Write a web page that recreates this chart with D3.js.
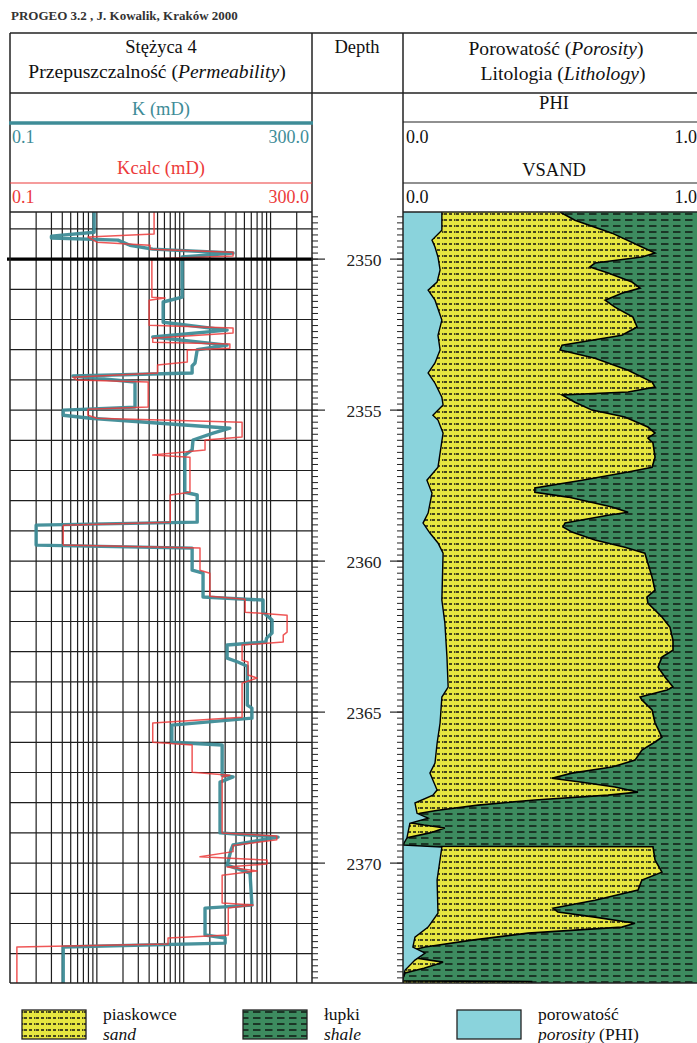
<!DOCTYPE html>
<html>
<head>
<meta charset="utf-8">
<script src="https://cdn.jsdelivr.net/npm/d3@7/dist/d3.min.js"></script>
<style>
  html, body { margin: 0; padding: 0; background: #fff; }
  svg { display: block; }
</style>
</head>
<body>
<svg id="log" width="697" height="1043" font-family="'Liberation Serif', 'Times New Roman', 'DejaVu Serif', serif"></svg>
<script>
// Well Stężyca 4 — permeability (measured K, calculated Kcalc), porosity and lithology logs.
// Curves are [depth m, value] pairs.

const kPermeability = [
  [2348.44,0.93],[2349.11,0.93],[2349.24,0.3],[2349.30,0.3],[2349.37,1.75],[2349.54,2.4],[2349.67,4.4],
  [2349.80,37],[2349.93,9.6],[2351.26,9.6],[2351.42,5.8],[2352.09,5.8],[2352.35,31.6],[2352.58,4.4],
  [2352.85,31.6],[2353.00,14.3],[2353.44,13.5],[2353.54,12.5],[2353.77,12.5],[2353.87,0.53],[2354.07,2.75],
  [2354.90,2.75],[2355.00,0.41],[2355.17,0.41],[2355.27,0.84],[2355.60,34],[2355.76,21.8],[2355.99,12.8],
  [2356.32,12.5],[2356.49,10.3],[2357.72,10.3],[2357.81,14.3],[2358.71,14.3],[2358.81,0.2],[2359.47,0.2],
  [2359.57,12.5],[2360.30,12.5],[2360.40,16.7],[2361.19,16.7],[2361.29,82],[2361.69,82],[2361.95,104],
  [2362.38,104],[2362.55,90],[2362.68,88],[2362.78,31.6],[2363.21,31.6],[2363.34,42],[2363.48,54],
  [2364.77,54],[2364.87,61],[2365.20,61],[2365.43,7.3],[2366.00,7.3],[2366.09,27.7],[2367.09,27.7],
  [2367.15,37],[2367.32,26.2],[2369.00,26.2],[2369.14,122],[2369.40,37],[2369.57,35],[2370.07,31.6],
  [2370.33,58],[2371.39,61],[2371.49,17.6],[2372.38,17.6],[2372.48,30],[2372.65,30],[2372.78,0.41],
  [2373.97,0.41]
];

const kCalculated = [
  [2348.44,4.56],[2349.17,4.56],[2349.27,0.79],[2349.44,1.0],[2349.54,4.1],[2349.67,4.1],[2349.77,37],
  [2349.90,37],[2350.00,4.3],[2351.26,4.3],[2351.29,6.1],[2351.36,4.0],[2352.19,4.0],[2352.28,37],
  [2352.45,37],[2352.62,4.4],[2352.75,4.4],[2352.81,34],[2352.95,34],[2353.01,11],[2353.41,11],
  [2353.51,5],[2353.77,5],[2353.91,0.53],[2354.00,0.59],[2354.07,3.9],[2354.90,3.9],[2354.97,0.79],
  [2355.17,0.79],[2355.27,1.0],[2355.40,47],[2355.89,47],[2355.99,17.6],[2356.32,17.6],[2356.49,4.4],
  [2356.56,11.8],[2357.72,11.8],[2357.81,7],[2358.71,7],[2358.81,0.41],[2359.47,0.41],[2359.57,15.4],
  [2360.30,15.4],[2360.40,20],[2361.16,20],[2361.26,51],[2361.69,51],[2361.79,155],[2362.35,155],
  [2362.45,140],[2362.68,140],[2362.78,47],[2363.28,47],[2363.34,55],[2363.77,55],[2363.87,70],
  [2364.04,47],[2365.17,47],[2365.36,4.4],[2366.00,4.4],[2366.09,12.5],[2366.99,12.5],[2367.09,34],
  [2367.15,27.7],[2369.00,27.7],[2369.10,118],[2369.23,118],[2369.42,37],[2369.62,37],[2369.79,15.4],
  [2369.90,91],[2370.03,91],[2370.13,31.6],[2370.26,70],[2370.40,27.7],[2371.32,27.7],[2371.39,63],
  [2371.49,32.6],[2372.38,32.6],[2372.48,6.6],[2372.68,6.6],[2372.78,0.12],[2373.97,0.12]
];

const porosity = [
  [2348.44,0.130],[2349.04,0.130],[2349.37,0.097],[2349.60,0.107],[2349.93,0.117],[2350.36,0.124],
  [2350.76,0.114],[2351.03,0.084],[2351.36,0.107],[2352.02,0.130],[2352.52,0.117],[2353.01,0.124],
  [2353.44,0.107],[2353.77,0.084],[2354.11,0.107],[2354.57,0.130],[2354.83,0.134],[2355.17,0.100],
  [2355.33,0.117],[2355.76,0.134],[2356.89,0.117],[2357.32,0.080],[2357.75,0.097],[2358.41,0.084],
  [2358.74,0.067],[2359.07,0.090],[2359.40,0.117],[2359.74,0.134],[2361.29,0.130],[2362.05,0.140],
  [2363.18,0.147],[2364.17,0.151],[2364.50,0.130],[2365.36,0.124],[2366.03,0.114],[2366.69,0.107],
  [2367.02,0.090],[2367.58,0.114],[2367.75,0.100],[2368.01,0.040],[2368.35,0.047],[2368.51,0.084],
  [2368.68,0.023],[2369.17,0.013],[2369.40,0.000],[2369.47,0.130],[2370.56,0.114],[2371.66,0.117],
  [2372.12,0.084],[2372.45,0.040],[2372.78,0.033],[2372.98,0.074],[2373.21,0.040],[2373.54,0.007],
  [2373.77,0.000],[2373.97,0.000]
];

const vsand = [
  [2348.44,0.525],[2348.71,0.575],[2349.14,0.699],[2349.60,0.799],[2349.80,0.843],[2349.93,0.799],
  [2350.13,0.642],[2350.26,0.625],[2350.46,0.686],[2350.76,0.766],[2350.96,0.793],[2351.13,0.732],
  [2351.36,0.676],[2351.59,0.709],[2351.92,0.769],[2352.25,0.783],[2352.52,0.732],[2352.85,0.532],
  [2353.01,0.525],[2353.28,0.642],[2353.68,0.753],[2354.07,0.833],[2354.24,0.843],[2354.40,0.753],
  [2354.50,0.532],[2354.74,0.575],[2355.00,0.632],[2355.23,0.742],[2355.56,0.819],[2355.76,0.843],
  [2355.93,0.819],[2356.09,0.836],[2356.56,0.843],[2356.89,0.833],[2357.05,0.753],[2357.32,0.599],
  [2357.58,0.441],[2357.72,0.441],[2357.88,0.552],[2358.21,0.699],[2358.38,0.753],[2358.48,0.686],
  [2358.74,0.542],[2358.87,0.535],[2359.04,0.565],[2359.30,0.642],[2359.54,0.742],[2359.74,0.809],
  [2360.07,0.819],[2360.53,0.833],[2360.96,0.843],[2361.19,0.816],[2361.39,0.819],[2361.85,0.866],
  [2362.19,0.893],[2362.62,0.903],[2362.95,0.903],[2363.18,0.866],[2363.51,0.853],[2363.84,0.876],
  [2364.17,0.903],[2364.27,0.883],[2364.50,0.793],[2364.60,0.799],[2364.93,0.833],[2365.36,0.843],
  [2365.83,0.866],[2365.99,0.843],[2366.26,0.799],[2366.59,0.776],[2366.82,0.699],[2367.02,0.565],
  [2367.19,0.498],[2367.32,0.599],[2367.48,0.709],[2367.65,0.786],[2367.75,0.686],[2367.91,0.441],
  [2368.08,0.251],[2368.25,0.117],[2368.35,0.057],[2368.48,0.020],[2368.64,0.010],[2368.74,0.070],
  [2368.84,0.140],[2369.00,0.090],[2369.17,0.010],[2369.34,0.000],[2369.44,0.000],[2369.46,0.836],
  [2369.90,0.843],[2370.30,0.866],[2370.56,0.799],[2370.89,0.786],[2371.23,0.642],[2371.49,0.502],
  [2371.62,0.518],[2371.79,0.642],[2371.99,0.776],[2372.12,0.732],[2372.32,0.418],[2372.55,0.231],
  [2372.78,0.074],[2372.88,0.033],[2373.05,0.007],[2373.11,0.020],[2373.28,0.134],[2373.48,0.070],
  [2373.64,0.007],[2373.81,0.000],[2373.90,0.000],[2373.92,0.430],[2373.97,0.430]
];

const depthRange = [2348.44, 2373.97];
const depthLabels = [2350, 2355, 2360, 2365, 2370];
const markerDepths = [2350];
const permRange = [0.1, 300];
const fracRange = [0, 1];

const svg = d3.select("#log");
const W = 697;

// Track geometry
const yTop = 212, yBot = 983;
const L0 = 10, L1 = 312, R0 = 403, R1 = 702;

const y = d3.scaleLinear().domain(depthRange).range([yTop, yBot]);
const xK = d3.scaleLog().domain(permRange).range([L0, L1]);
const xF = d3.scaleLinear().domain(fracRange).range([R0, R1]);

const COL = {
  teal: "#3e8c97", red: "#ec3a3a", cyan: "#8ad3dc",
  sand: "#e6e640", shale: "#3d8b5f", grid: "#1e1e1e"
};

const defs = svg.append("defs");
const sandPat = defs.append("pattern").attr("id", "sandPat")
  .attr("patternUnits", "userSpaceOnUse").attr("width", 12).attr("height", 6).attr("y", 1);
sandPat.append("rect").attr("width", 12).attr("height", 6).attr("fill", COL.sand);
sandPat.append("path").attr("d", "M0,3h3M5,3h3M10,3h1.4")
  .attr("stroke", "#111").attr("stroke-width", 1.5);
const shalePat = defs.append("pattern").attr("id", "shalePat")
  .attr("patternUnits", "userSpaceOnUse").attr("width", 12).attr("height", 6).attr("y", 1);
shalePat.append("rect").attr("width", 12).attr("height", 6).attr("fill", COL.shale);
shalePat.append("path").attr("d", "M1,3h7.5")
  .attr("stroke", "#14261b").attr("stroke-width", 1.7);

defs.append("clipPath").attr("id", "clipL").append("rect")
  .attr("x", L0).attr("y", yTop).attr("width", L1 - L0).attr("height", yBot - yTop);
defs.append("clipPath").attr("id", "clipR").append("rect")
  .attr("x", R0).attr("y", yTop).attr("width", R1 - R0).attr("height", yBot - yTop);

// Program banner
svg.append("text").attr("x", 11).attr("y", 20)
  .attr("font-size", 13).attr("font-weight", "bold").attr("fill", "#333")
  .text("PROGEO 3.2 , J. Kowalik, Kraków 2000");

// ---------- Left track: permeability grid ----------
const gL = svg.append("g");
const gridVals = [];
[0.1, 1, 10, 100].forEach(dec => {
  for (let m = 1; m <= 9; m++) {
    const v = dec * m;
    if (v > 0.1 && v < 300) gridVals.push(v);
  }
});
gL.selectAll("line.vg").data(gridVals).join("line")
  .attr("x1", d => xK(d)).attr("x2", d => xK(d))
  .attr("y1", yTop).attr("y2", yBot)
  .attr("stroke", COL.grid).attr("stroke-width", 1.2);

const meterLines = d3.range(Math.ceil(depthRange[0]), Math.floor(depthRange[1]) + 1);
gL.selectAll("line.hg").data(meterLines).join("line")
  .attr("x1", L0).attr("x2", L1).attr("y1", d => y(d)).attr("y2", d => y(d))
  .attr("stroke", COL.grid).attr("stroke-width", 1.2);

// Curves
const permLine = d3.line().x(d => xK(d[1])).y(d => y(d[0]));
gL.append("path").datum(kPermeability)
  .attr("clip-path", "url(#clipL)")
  .attr("d", permLine).attr("fill", "none")
  .attr("stroke", COL.teal).attr("stroke-width", 3.4).attr("stroke-opacity", 0.95)
  .attr("stroke-linejoin", "round");
gL.append("path").datum(kCalculated)
  .attr("clip-path", "url(#clipL)")
  .attr("d", permLine).attr("fill", "none")
  .attr("stroke", COL.red).attr("stroke-width", 1.5).attr("stroke-opacity", 0.85)
  .attr("stroke-linejoin", "round");

// Depth marker
gL.selectAll("line.mk").data(markerDepths).join("line")
  .attr("x1", L0 - 3).attr("x2", L1 + 1).attr("y1", d => y(d)).attr("y2", d => y(d))
  .attr("stroke", "#000").attr("stroke-width", 3.2);

// ---------- Right track: porosity & lithology ----------
const gR = svg.append("g").attr("clip-path", "url(#clipR)");
gR.append("rect").attr("x", R0).attr("y", yTop).attr("width", R1 - R0).attr("height", yBot - yTop)
  .attr("fill", "url(#shalePat)");
const fracArea = d3.area().curve(d3.curveLinear)
  .x0(xF(0)).x1(d => xF(d[1])).y(d => y(d[0]));
const fracLine = d3.line().x(d => xF(d[1])).y(d => y(d[0]));
gR.append("path").datum(vsand).attr("d", fracArea).attr("fill", "url(#sandPat)");
gR.append("path").datum(vsand).attr("d", fracLine).attr("fill", "none")
  .attr("stroke", "#000").attr("stroke-width", 1.6);
gR.append("path").datum(porosity).attr("d", fracArea).attr("fill", COL.cyan);
gR.append("path").datum(porosity).attr("d", fracLine).attr("fill", "none")
  .attr("stroke", "#000").attr("stroke-width", 1.4);

// ---------- Depth column ----------
const gD = svg.append("g");
const minor = d3.range(Math.ceil(depthRange[0] * 5), Math.floor(depthRange[1] * 5) + 1).map(d => d / 5);
gD.selectAll("line.tl").data(minor).join("line")
  .attr("x1", L1).attr("x2", L1 + 6).attr("y1", d => y(d)).attr("y2", d => y(d))
  .attr("stroke", "#222").attr("stroke-width", 1);
gD.selectAll("line.tr").data(minor).join("line")
  .attr("x1", R0 - 6).attr("x2", R0).attr("y1", d => y(d)).attr("y2", d => y(d))
  .attr("stroke", "#222").attr("stroke-width", 1);
gD.selectAll("line.ml").data(depthLabels).join("line")
  .attr("x1", L1).attr("x2", L1 + 13).attr("y1", d => y(d)).attr("y2", d => y(d))
  .attr("stroke", "#222").attr("stroke-width", 1.2);
gD.selectAll("line.mr").data(depthLabels).join("line")
  .attr("x1", R0 - 13).attr("x2", R0).attr("y1", d => y(d)).attr("y2", d => y(d))
  .attr("stroke", "#222").attr("stroke-width", 1.2);
gD.selectAll("text.dl").data(depthLabels).join("text")
  .attr("x", 364).attr("y", d => y(d) + 6.5).attr("text-anchor", "middle")
  .attr("font-size", 17.5).attr("fill", "#222").text(d => d);

// ---------- Header table ----------
const frame = svg.append("g").attr("stroke", "#222").attr("fill", "none");
frame.append("line").attr("x1", L0).attr("x2", W).attr("y1", 33).attr("y2", 33).attr("stroke-width", 1.5);
frame.append("line").attr("x1", L0).attr("x2", W).attr("y1", 93).attr("y2", 93).attr("stroke-width", 1.5);
[L0, L1, R0].forEach(x => frame.append("line").attr("x1", x).attr("x2", x)
  .attr("y1", 33).attr("y2", yBot).attr("stroke-width", 1.5));
frame.append("line").attr("x1", L0).attr("x2", L1).attr("y1", yTop).attr("y2", yTop).attr("stroke-width", 1.3);
frame.append("line").attr("x1", R0).attr("x2", W).attr("y1", yTop).attr("y2", yTop).attr("stroke-width", 1.3);
frame.append("line").attr("x1", L0).attr("x2", W).attr("y1", yBot).attr("y2", yBot).attr("stroke-width", 1.5);
frame.append("line").attr("x1", R0).attr("x2", W).attr("y1", 122).attr("y2", 122).attr("stroke-width", 1.2);
frame.append("line").attr("x1", R0).attr("x2", W).attr("y1", 183).attr("y2", 183).attr("stroke-width", 1.2);
svg.append("line").attr("x1", L0 - 1).attr("x2", L1 + 1).attr("y1", 123).attr("y2", 123)
  .attr("stroke", COL.teal).attr("stroke-width", 3.4);
svg.append("line").attr("x1", L0).attr("x2", L1).attr("y1", 183).attr("y2", 183)
  .attr("stroke", COL.red).attr("stroke-width", 1.2);

const hdr = svg.append("g");
const addText = (x, yy, anchor, parts, opts = {}) => {
  const t = hdr.append("text").attr("x", x).attr("y", yy).attr("text-anchor", anchor)
    .attr("font-size", opts.size || 18.5).attr("fill", opts.fill || "#111");
  parts.forEach(p => t.append("tspan").attr("font-style", p[1] ? "italic" : null).text(p[0]));
  return t;
};
addText(161, 53, "middle", [["Stężyca 4"]]);
addText(157, 78, "middle", [["Przepuszczalność ("], ["Permeability", 1], [")"]], { size: 19.6 });
addText(357, 53, "middle", [["Depth"]]);
addText(556, 55, "middle", [["Porowatość ("], ["Porosity", 1], [")"]], { size: 19.6 });
addText(563, 80, "middle", [["Litologia ("], ["Lithology", 1], [")"]], { size: 19.6 });

addText(161, 115, "middle", [["K (mD)"]], { fill: COL.teal });
addText(12, 143, "start", [[String(permRange[0])]], { fill: COL.teal, size: 18 });
addText(309, 143, "end", [[permRange[1].toFixed(1)]], { fill: COL.teal, size: 18 });
addText(161, 174, "middle", [["Kcalc (mD)"]], { fill: COL.red });
addText(12, 203, "start", [[String(permRange[0])]], { fill: COL.red, size: 18 });
addText(309, 203, "end", [[permRange[1].toFixed(1)]], { fill: COL.red, size: 18 });

addText(554, 109, "middle", [["PHI"]]);
addText(406, 143, "start", [[fracRange[0].toFixed(1)]], { size: 18 });
addText(697, 143, "end", [[fracRange[1].toFixed(1)]], { size: 18 });
addText(554, 176, "middle", [["VSAND"]]);
addText(406, 203, "start", [[fracRange[0].toFixed(1)]], { size: 18 });
addText(697, 203, "end", [[fracRange[1].toFixed(1)]], { size: 18 });

// ---------- Legend ----------
const legendItems = [
  { fill: "url(#sandPat)", x: 22, label: "piaskowce", sub: [["sand", 1]] },
  { fill: "url(#shalePat)", x: 243, label: "łupki", sub: [["shale", 1]] },
  { fill: COL.cyan, x: 457, label: "porowatość", sub: [["porosity", 1], [" (PHI)"]] }
];
const lg = svg.append("g");
legendItems.forEach(it => {
  lg.append("rect").attr("x", it.x).attr("y", 1010).attr("width", 64).attr("height", 29)
    .attr("fill", it.fill).attr("stroke", "#222").attr("stroke-width", 1.3);
  lg.append("text").attr("x", it.x + 81).attr("y", 1020).attr("font-size", 17.5).attr("fill", "#111")
    .text(it.label);
  const t2 = lg.append("text").attr("x", it.x + 81).attr("y", 1040).attr("font-size", 17.5).attr("fill", "#111");
  it.sub.forEach(p => t2.append("tspan").attr("font-style", p[1] ? "italic" : null).text(p[0]));
});
</script>
</body>
</html>
